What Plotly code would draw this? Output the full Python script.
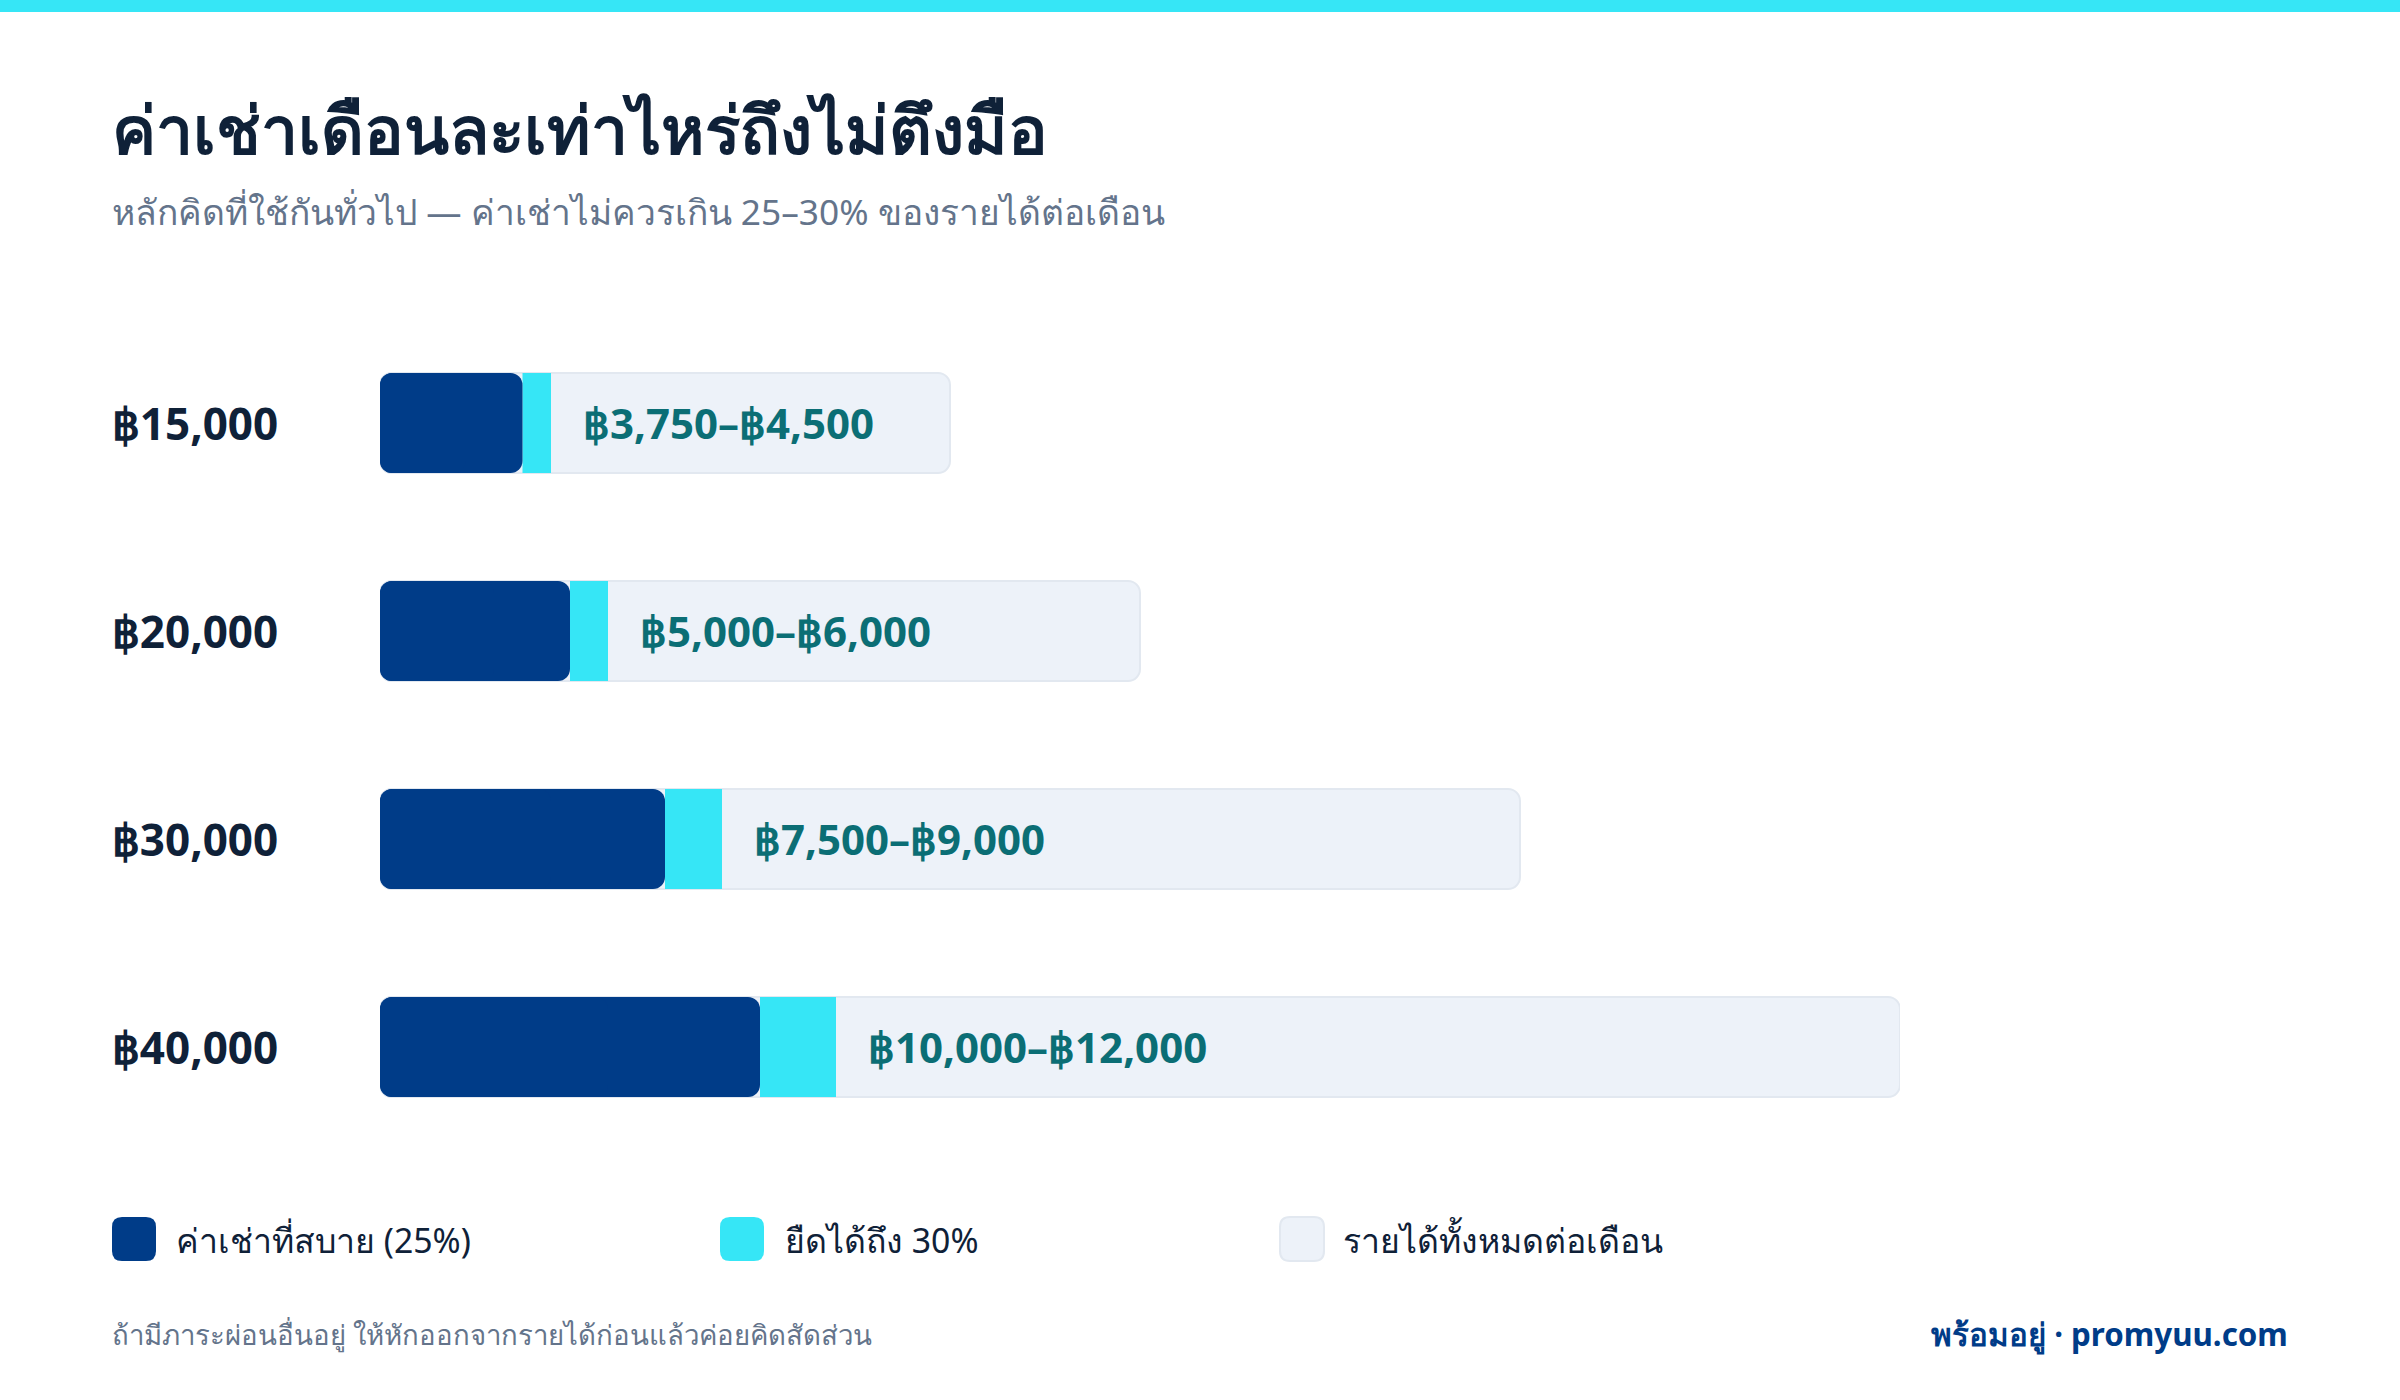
import plotly.graph_objects as go

incomes = [15000, 20000, 30000, 40000]
income_labels = ["฿15,000", "฿20,000", "฿30,000", "฿40,000"]
rent_25 = [3750, 5000, 7500, 10000]
rent_30 = [4500, 6000, 9000, 12000]
range_labels = ["฿3,750–฿4,500", "฿5,000–฿6,000", "฿7,500–฿9,000", "฿10,000–฿12,000"]
legend_names = ["ค่าเช่าที่สบาย (25%)", "ยืดได้ถึง 30%", "รายได้ทั้งหมดต่อเดือน"]

W, H = 2400, 1400
L, R, T, B = 380, 500, 319, 249
NAVY, CYAN, TRACK, EDGE = "#003c88", "#36e6f6", "#edf2f9", "#e2e8f0"
INK, GREY, TEAL = "#0f2138", "#64748b", "#0b6e75"
FONT = "Noto Sans"
BAR_W = 100 / 208
RADIUS = 12


def px(v):
    return (v - L) / (W - L - R)


def py(v):
    return 1 - (v - T) / (H - T - B)


def rounded(x0, y0, x1, y1, r):
    a, b, c, d = px(x0), py(y0), px(x1), py(y1)
    ra, rb = px(x0 + r) - a, py(y0) - py(y0 + r)
    return (f"M{a+ra},{b} L{c-ra},{b} Q{c},{b} {c},{b-rb} L{c},{d+rb} Q{c},{d} {c-ra},{d} "
            f"L{a+ra},{d} Q{a},{d} {a},{d+rb} L{a},{b-rb} Q{a},{b} {a+ra},{b} Z")


def bar(values, base, color, line=None, radius=RADIUS):
    return go.Bar(
        y=income_labels, x=values, base=base, orientation="h", width=BAR_W,
        marker=dict(color=color, cornerradius=radius,
                    line=dict(color=line or color, width=2 if line else 0)),
        cliponaxis=False, hoverinfo="skip", showlegend=False,
    )


fig = go.Figure()
# Each rounded bar is two pieces growing out of a point hidden under the navy bar,
# so that all four corners are rounded.
fig.add_trace(bar(incomes, [0] * 4, TRACK, EDGE))
fig.add_trace(bar([-v * 0.1 for v in incomes], [v * 0.1 for v in incomes], TRACK, EDGE))
fig.add_trace(bar([hi - lo for lo, hi in zip(rent_25, rent_30)], rent_25, CYAN, radius=0))
fig.add_trace(bar(rent_25, [0] * 4, NAVY))
fig.add_trace(bar([-v * 0.6 for v in rent_25], [v * 0.6 for v in rent_25], NAVY))

ann = []


def text(x, y, s, size, color, weight=400, anchor="left"):
    ann.append(dict(xref="paper", yref="paper", x=px(x), y=py(y), text=s, showarrow=False,
                    xanchor=anchor, yanchor="middle", align=anchor,
                    font=dict(family=FONT, size=size, color=color, weight=weight)))


text(110, 128, "ค่าเช่าเดือนละเท่าไหร่ถึงไม่ตึงมือ", 66, INK, 700)
text(110, 211, "หลักคิดที่ใช้กันทั่วไป — ค่าเช่าไม่ควรเกิน 25–30% ของรายได้ต่อเดือน", 35.3, GREY)
for hi, label, name in zip(rent_30, range_labels, income_labels):
    ann.append(dict(xref="x", yref="y", x=hi, y=name, xshift=30, yshift=1, text=label, showarrow=False,
                    xanchor="left", yanchor="middle",
                    font=dict(family=FONT, size=42, color=TEAL, weight=700)))
for x, s in zip([174, 783, 1341], legend_names):
    text(x, 1240, s, 33.8, INK)
text(110, 1334, "ถ้ามีภาระผ่อนอื่นอยู่ ให้หักออกจากรายได้ก่อนแล้วค่อยคิดสัดส่วน", 27.6, GREY)
text(2290, 1334, "พร้อมอยู่ · promyuu.com", 31.3, NAVY, 700, "right")

shapes = [dict(type="rect", xref="paper", yref="paper", x0=px(0), x1=px(W), y0=py(0), y1=py(12),
               fillcolor=CYAN, line=dict(width=0))]
for x, fill, edge in [(112, NAVY, None), (720, CYAN, None), (1280, TRACK, EDGE)]:
    shapes.append(dict(type="path", xref="paper", yref="paper",
                       path=rounded(x, 1217, x + 44, 1261, 10), fillcolor=fill,
                       line=dict(color=edge or fill, width=2 if edge else 0)))

fig.update_layout(
    width=W, height=H, autosize=False,
    margin=dict(l=L, r=R, t=T, b=B, pad=0),
    paper_bgcolor="white", plot_bgcolor="white",
    barmode="overlay", showlegend=False,
    annotations=ann, shapes=shapes,
    xaxis=dict(range=[0, 40000], visible=False, fixedrange=True),
    yaxis=dict(type="category", categoryorder="array", categoryarray=income_labels,
               autorange=False, range=[3.5, -0.5], showgrid=False, zeroline=False, showline=False,
               ticks="outside", ticklen=92, tickcolor="rgba(0,0,0,0)", fixedrange=True,
               ticklabelshift=-2,
               tickfont=dict(family=FONT, size=44, color=INK, weight=700)),
)
fig.write_html("out.html", config=dict(displayModeBar=False),
               post_script="document.body.style.margin='0';document.documentElement.style.overflow='hidden';")
